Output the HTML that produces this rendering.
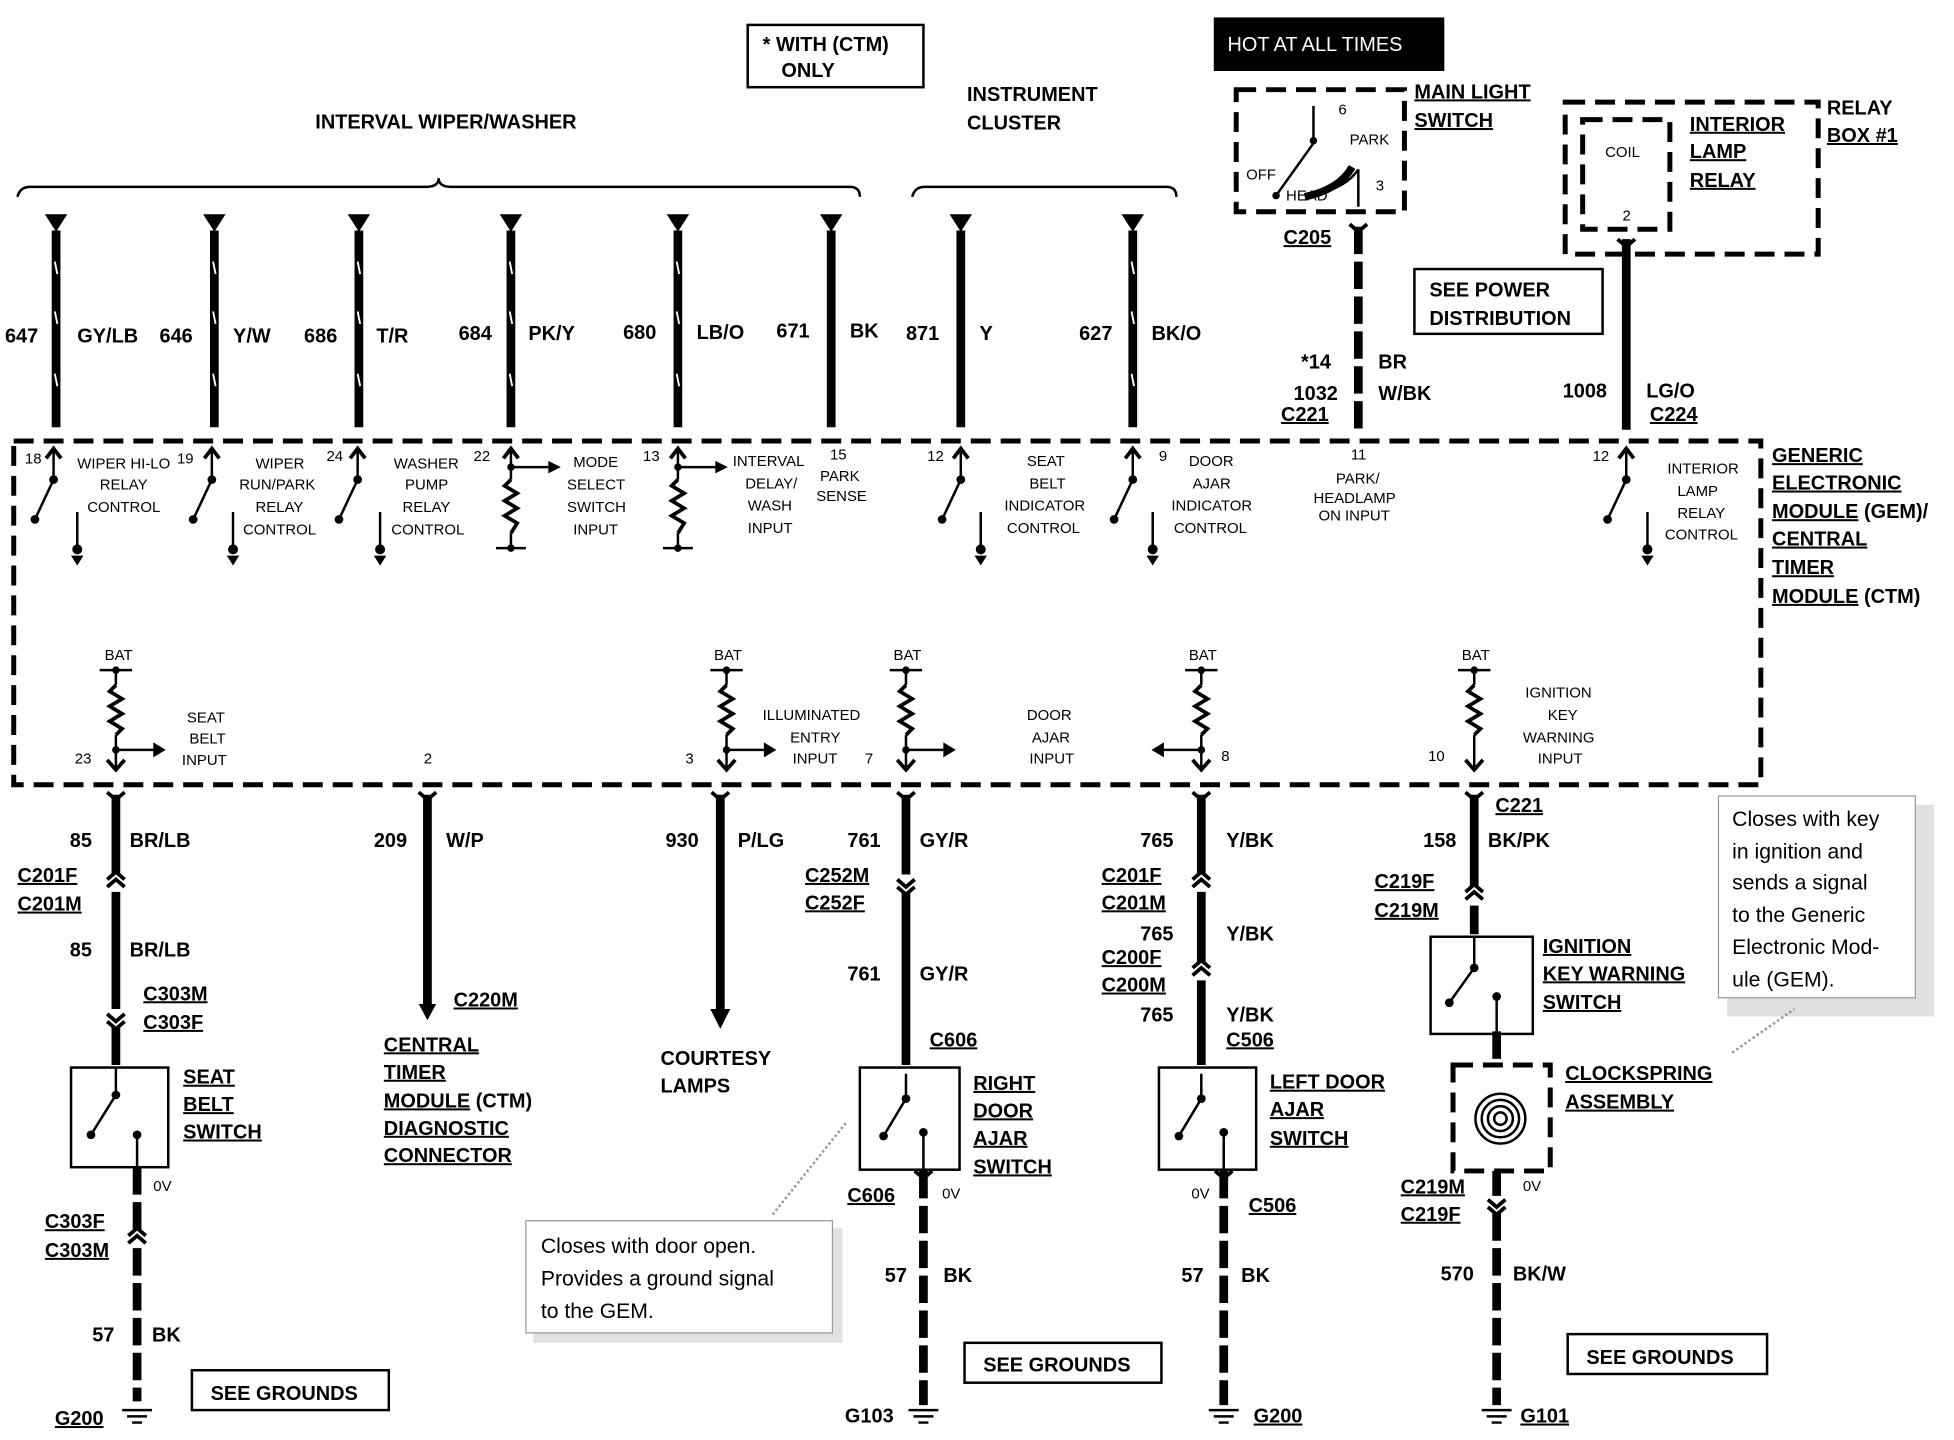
<!DOCTYPE html>
<html><head><meta charset="utf-8"><style>
html,body{margin:0;padding:0;background:#fff;}
svg{display:block}
text{font-family:"Liberation Sans",Arial,sans-serif;fill:#000}
.b{font-weight:bold;font-size:16px}
.s{font-size:12px}
.u{text-decoration:underline}
.w{stroke:#000;stroke-width:7;fill:none}
.t{stroke:#000;stroke-width:2;fill:none}
.d{stroke:#000;stroke-width:4;fill:none;stroke-dasharray:16 8}
.z{stroke:#000;stroke-width:3;fill:none}
</style></head><body>
<svg width="1954" height="1440" viewBox="0 0 1568 1156" preserveAspectRatio="none">
<rect width="1568" height="1156" fill="#fff"/>
<rect x="600" y="20" width="141" height="50" fill="none" stroke="#000" stroke-width="2"/>
<text class="b" x="612" y="41">* WITH (CTM)</text><text class="b" x="627" y="62">ONLY</text>
<text class="b" x="253" y="103">INTERVAL WIPER/WASHER</text>
<text class="b" x="776" y="81">INSTRUMENT</text><text class="b" x="776" y="104">CLUSTER</text>
<rect x="974" y="14" width="185" height="43" fill="#000"/>
<text x="985" y="41" style="font-size:16px;fill:#fff">HOT AT ALL TIMES</text>
<path class="t" stroke-width="3" d="M14 158 Q16 150 24 150 L342 150 Q352 150 352 143 Q352 150 362 150 L682 150 Q690 150 690 158"/>
<path class="t" stroke-width="3" d="M732 158 Q734 150 742 150 L936 150 Q944 150 944 158"/>
<g fill="#000">
<path d="M36 172h18l-9 14z"/><path d="M163 172h18l-9 14z"/><path d="M279 172h18l-9 14z"/><path d="M401 172h18l-9 14z"/>
<path d="M535 172h18l-9 14z"/><path d="M658 172h18l-9 14z"/><path d="M762 172h18l-9 14z"/><path d="M900 172h18l-9 14z"/>
</g>
<path class="w" d="M45 185V343M172 185V343M288 185V343M410 185V343M544 185V343M667 185V343M771 185V343M909 185V343"/>
<path stroke="#fff" stroke-width="1.5" d="M44 210l2 10M44 250l2 10M44 300l2 10M171 210l2 10M171 250l2 10M171 300l2 10M287 210l2 10M287 250l2 10M287 300l2 10M409 210l2 10M409 250l2 10M409 300l2 10M543 210l2 10M543 250l2 10M543 300l2 10M908 210l2 10M908 250l2 10M908 300l2 10"/>
<g class="b">
<text x="4" y="275">647</text><text x="62" y="275">GY/LB</text>
<text x="128" y="275">646</text><text x="187" y="275">Y/W</text>
<text x="244" y="275">686</text><text x="302" y="275">T/R</text>
<text x="368" y="273">684</text><text x="424" y="273">PK/Y</text>
<text x="500" y="272">680</text><text x="559" y="272">LB/O</text>
<text x="623" y="271">671</text><text x="682" y="271">BK</text>
<text x="727" y="273">871</text><text x="786" y="273">Y</text>
<text x="866" y="273">627</text><text x="924" y="273">BK/O</text>
</g>
<rect x="992" y="72" width="135" height="98" class="d"/>
<text class="b u" x="1135" y="79">MAIN LIGHT</text><text class="b u" x="1135" y="102">SWITCH</text>
<path class="t" stroke-width="3" d="M1054 85v30l-30 42M1090 136q-10 15 -35 20M1090 136v30"/>
<path d="M1085 134q-10 18 -38 24" stroke="#000" stroke-width="6" fill="none"/>
<circle cx="1054" cy="113" r="3"/><circle cx="1024" cy="157" r="3"/>
<text class="s" x="1074" y="92">6</text><text class="s" x="1083" y="116">PARK</text><text class="s" x="1000" y="144">OFF</text><text class="s" x="1032" y="161">HEAD</text><text class="s" x="1104" y="153">3</text>
<text class="b u" x="1030" y="196">C205</text>
<path class="w" d="M1090 182V345" stroke-dasharray="22 6"/>
<text class="b" x="1044" y="296">*14</text><text class="b" x="1106" y="296">BR</text>
<text class="b" x="1038" y="321">1032</text><text class="b" x="1106" y="321">W/BK</text>
<text class="b u" x="1028" y="338">C221</text>
<rect x="1135" y="216" width="151" height="52" fill="none" stroke="#000" stroke-width="2"/>
<text class="b" x="1147" y="238">SEE POWER</text><text class="b" x="1147" y="261">DISTRIBUTION</text>
<rect x="1256" y="82" width="203" height="122" class="d"/>
<rect x="1270" y="96" width="70" height="88" class="d"/>
<text class="s" x="1288" y="126">COIL</text><text class="s" x="1302" y="177">2</text>
<text class="b u" x="1356" y="105">INTERIOR</text><text class="b u" x="1356" y="127">LAMP</text><text class="b u" x="1356" y="150">RELAY</text>
<text class="b" x="1466" y="92">RELAY</text><text class="b u" x="1466" y="114">BOX #1</text>
<path class="w" d="M1305 192V345"/>
<text class="b" x="1254" y="319">1008</text><text class="b" x="1321" y="319">LG/O</text><text class="b u" x="1324" y="338">C224</text>
<rect x="11" y="354" width="1402" height="276" class="d"/>
<text class="b u" x="1422" y="371">GENERIC</text><text class="b u" x="1422" y="393">ELECTRONIC</text>
<text class="b" x="1422" y="416"><tspan class="u">MODULE</tspan> (GEM)/</text>
<text class="b u" x="1422" y="438">CENTRAL</text><text class="b u" x="1422" y="461">TIMER</text>
<text class="b" x="1422" y="484"><tspan class="u">MODULE</tspan> (CTM)</text>
<g class="t" stroke-width="2.5">
<path d="M43 360v25l-15 32M170 360v25l-15 32M287 360v25l-15 32M771 360v25l-15 32M909 360v25l-15 32M1305 360v25l-15 32"/>
<path d="M62 411v28M187 411v28M305 411v28M787 411v28M925 411v28M1322 411v28"/>
<path d="M410 360v25M410 428v12M398 440h24M410 375h30M544 360v25M544 428v12M532 440h24M544 375h30"/>
<path d="M93 538v12M93 590v28M583 538v12M583 590v28M727 538v12M727 590v28M964 538v12M964 590v28M1183 538v12M1183 590v28"/>
<path d="M80 538h26M93 602h30M570 538h26M583 602h30M714 538h26M727 602h30M951 538h26M964 602h-30M1170 538h26"/>
</g>
<g class="z">
<path d="M410 385l-5 5l10 6l-10 6l10 6l-10 6l10 6l-5 8"/>
<path d="M544 385l-5 5l10 6l-10 6l10 6l-10 6l10 6l-5 8"/>
<path d="M93 550l-5 5l10 6l-10 6l10 6l-10 6l10 6l-5 5"/>
<path d="M583 550l-5 5l10 6l-10 6l10 6l-10 6l10 6l-5 5"/>
<path d="M727 550l-5 5l10 6l-10 6l10 6l-10 6l10 6l-5 5"/>
<path d="M964 550l-5 5l10 6l-10 6l10 6l-10 6l10 6l-5 5"/>
<path d="M1183 550l-5 5l10 6l-10 6l10 6l-10 6l10 6l-5 5"/>
<path d="M86 610l7 8l7-8M576 610l7 8l7-8M720 610l7 8l7-8M957 610l7 8l7-8M1176 610l7 8l7-8"/>
<path d="M37 368l6-8l6 8M164 368l6-8l6 8M281 368l6-8l6 8M404 368l6-8l6 8M538 368l6-8l6 8M765 368l6-8l6 8M903 368l6-8l6 8M1299 368l6-8l6 8"/>
</g>
<g fill="#000">
<circle cx="43" cy="385" r="3.5"/><circle cx="28" cy="417" r="3.5"/><circle cx="62" cy="441" r="4"/>
<circle cx="170" cy="385" r="3.5"/><circle cx="155" cy="417" r="3.5"/><circle cx="187" cy="441" r="4"/>
<circle cx="287" cy="385" r="3.5"/><circle cx="272" cy="417" r="3.5"/><circle cx="305" cy="441" r="4"/>
<circle cx="771" cy="385" r="3.5"/><circle cx="756" cy="417" r="3.5"/><circle cx="787" cy="441" r="4"/>
<circle cx="909" cy="385" r="3.5"/><circle cx="894" cy="417" r="3.5"/><circle cx="925" cy="441" r="4"/>
<circle cx="1305" cy="385" r="3.5"/><circle cx="1290" cy="417" r="3.5"/><circle cx="1322" cy="441" r="4"/>
<circle cx="410" cy="375" r="3"/><circle cx="544" cy="375" r="3"/><circle cx="410" cy="440" r="3"/><circle cx="544" cy="440" r="3"/>
<circle cx="93" cy="538" r="3"/><circle cx="583" cy="538" r="3"/><circle cx="727" cy="538" r="3"/><circle cx="964" cy="538" r="3"/><circle cx="1183" cy="538" r="3"/>
<circle cx="93" cy="602" r="3"/><circle cx="583" cy="602" r="3"/><circle cx="727" cy="602" r="3"/><circle cx="964" cy="602" r="3"/>
<path d="M440 370l10 5l-10 5zM574 370l10 5l-10 5z"/>
<path d="M123 596l10 6l-10 6zM613 596l10 6l-10 6zM757 596l10 6l-10 6zM934 596l-10 6l10 6z"/>
<path d="M57 446h10l-5 8zM182 446h10l-5 8zM300 446h10l-5 8zM782 446h10l-5 8zM920 446h10l-5 8zM1317 446h10l-5 8z"/>
</g>
<g class="s">
<text x="20" y="372">18</text><text x="62" y="376">WIPER HI-LO</text><text x="80" y="393">RELAY</text><text x="70" y="411">CONTROL</text>
<text x="142" y="372">19</text><text x="205" y="376">WIPER</text><text x="192" y="393">RUN/PARK</text><text x="205" y="411">RELAY</text><text x="195" y="429">CONTROL</text>
<text x="262" y="370">24</text><text x="316" y="376">WASHER</text><text x="325" y="393">PUMP</text><text x="323" y="411">RELAY</text><text x="314" y="429">CONTROL</text>
<text x="380" y="370">22</text><text x="460" y="375">MODE</text><text x="455" y="393">SELECT</text><text x="455" y="411">SWITCH</text><text x="460" y="429">INPUT</text>
<text x="516" y="370">13</text><text x="588" y="374">INTERVAL</text><text x="598" y="392">DELAY/</text><text x="600" y="410">WASH</text><text x="600" y="428">INPUT</text>
<text x="666" y="369">15</text><text x="658" y="386">PARK</text><text x="655" y="402">SENSE</text>
<text x="744" y="370">12</text><text x="824" y="374">SEAT</text><text x="826" y="392">BELT</text><text x="806" y="410">INDICATOR</text><text x="808" y="428">CONTROL</text>
<text x="930" y="370">9</text><text x="954" y="374">DOOR</text><text x="957" y="392">AJAR</text><text x="940" y="410">INDICATOR</text><text x="942" y="428">CONTROL</text>
<text x="1084" y="369">11</text><text x="1072" y="388">PARK/</text><text x="1054" y="404">HEADLAMP</text><text x="1058" y="418">ON INPUT</text>
<text x="1278" y="370">12</text><text x="1338" y="380">INTERIOR</text><text x="1346" y="398">LAMP</text><text x="1346" y="416">RELAY</text><text x="1336" y="433">CONTROL</text>
<text x="84" y="530">BAT</text><text x="573" y="530">BAT</text><text x="717" y="530">BAT</text><text x="954" y="530">BAT</text><text x="1173" y="530">BAT</text>
<text x="150" y="580">SEAT</text><text x="152" y="597">BELT</text><text x="146" y="614">INPUT</text><text x="60" y="613">23</text>
<text x="340" y="613">2</text><text x="550" y="613">3</text><text x="694" y="613">7</text>
<text x="612" y="578">ILLUMINATED</text><text x="634" y="596">ENTRY</text><text x="636" y="613">INPUT</text>
<text x="824" y="578">DOOR</text><text x="828" y="596">AJAR</text><text x="826" y="613">INPUT</text><text x="980" y="611">8</text>
<text x="1146" y="611">10</text><text x="1224" y="560">IGNITION</text><text x="1242" y="578">KEY</text><text x="1222" y="596">WARNING</text><text x="1234" y="613">INPUT</text>
</g>
<!-- bottom wires -->
<path class="w" d="M93 638V702M93 716V810M93 824V855M343 638V808M578 638V815M727 638V702M727 716V855M964 638V702M964 716V773M964 787V855M1183 638V712M1183 727V750"/>
<path class="w" stroke-dasharray="22 6" d="M110 937V988M110 1002V1125M741 940V1128M982 940V1128M1201 828V852M1201 940V960M1201 974V1128"/>
<!-- connector chevrons -->
<g class="z">
<path d="M86 706l7-6l7 6M86 712l7-6l7 6M86 814l7 6l7-6M86 820l7 6l7-6M720 706l7 6l7-6M720 712l7 6l7-6M957 706l7-6l7 6M957 712l7-6l7 6M957 777l7-6l7 6M957 783l7-6l7 6M1176 716l7-6l7 6M1176 722l7-6l7 6M103 992l7-6l7 6M103 998l7-6l7 6M1194 963l7 6l7-6M1194 969l7 6l7-6M1083 180l7 6l7-6M1298 192l7 6l7-6M86 636l7 6l7-6M336 636l7 6l7-6M571 636l7 6l7-6M720 636l7 6l7-6M957 636l7 6l7-6M1176 636l7 6l7-6M734 940l7 6l7-6M975 940l7 6l7-6"/>
</g>
<g fill="#000"><path d="M336 806h14l-7 13zM570 810h16l-8 16z"/></g>
<g class="b">
<text x="56" y="680">85</text><text x="104" y="680">BR/LB</text>
<text class="u" x="14" y="708">C201F</text><text class="u" x="14" y="731">C201M</text>
<text x="56" y="768">85</text><text x="104" y="768">BR/LB</text>
<text class="u" x="115" y="803">C303M</text><text class="u" x="115" y="826">C303F</text>
<text x="300" y="680">209</text><text x="358" y="680">W/P</text><text class="u" x="364" y="808">C220M</text>
<text class="u" x="308" y="844">CENTRAL</text><text class="u" x="308" y="866">TIMER</text>
<text x="308" y="889"><tspan class="u">MODULE</tspan> (CTM)</text><text class="u" x="308" y="911">DIAGNOSTIC</text><text class="u" x="308" y="933">CONNECTOR</text>
<text x="534" y="680">930</text><text x="592" y="680">P/LG</text>
<text x="530" y="855">COURTESY</text><text x="530" y="877">LAMPS</text>
<text x="680" y="680">761</text><text x="738" y="680">GY/R</text>
<text class="u" x="646" y="708">C252M</text><text class="u" x="646" y="730">C252F</text>
<text x="680" y="787">761</text><text x="738" y="787">GY/R</text><text class="u" x="746" y="840">C606</text>
<text class="u" x="781" y="875">RIGHT</text><text class="u" x="781" y="897">DOOR</text><text class="u" x="781" y="919">AJAR</text><text class="u" x="781" y="942">SWITCH</text>
<text class="u" x="680" y="965">C606</text><text x="710" y="1029">57</text><text x="757" y="1029">BK</text>
<text x="915" y="680">765</text><text x="984" y="680">Y/BK</text>
<text class="u" x="884" y="708">C201F</text><text class="u" x="884" y="730">C201M</text>
<text x="915" y="755">765</text><text x="984" y="755">Y/BK</text>
<text class="u" x="884" y="774">C200F</text><text class="u" x="884" y="796">C200M</text>
<text x="915" y="820">765</text><text x="984" y="820">Y/BK</text><text class="u" x="984" y="840">C506</text>
<text class="u" x="1019" y="874">LEFT DOOR</text><text class="u" x="1019" y="896">AJAR</text><text class="u" x="1019" y="919">SWITCH</text>
<text class="u" x="1002" y="973">C506</text><text x="948" y="1029">57</text><text x="996" y="1029">BK</text>
<text class="u" x="1200" y="652">C221</text><text x="1142" y="680">158</text><text x="1194" y="680">BK/PK</text>
<text class="u" x="1103" y="713">C219F</text><text class="u" x="1103" y="736">C219M</text>
<text class="u" x="1238" y="765">IGNITION</text><text class="u" x="1238" y="787">KEY WARNING</text><text class="u" x="1238" y="810">SWITCH</text>
<text class="u" x="1256" y="867">CLOCKSPRING</text><text class="u" x="1256" y="890">ASSEMBLY</text>
<text class="u" x="1124" y="958">C219M</text><text class="u" x="1124" y="980">C219F</text>
<text x="1156" y="1028">570</text><text x="1214" y="1028">BK/W</text>
<text class="u" x="36" y="986">C303F</text><text class="u" x="36" y="1009">C303M</text>
<text x="74" y="1077">57</text><text x="122" y="1077">BK</text>
<text class="u" x="44" y="1144">G200</text><text x="678" y="1142">G103</text><text class="u" x="1006" y="1142">G200</text><text class="u" x="1220" y="1142">G101</text>
<text class="u" x="147" y="870">SEAT</text><text class="u" x="147" y="892">BELT</text><text class="u" x="147" y="914">SWITCH</text>
</g>
<g class="s"><text x="123" y="956">0V</text><text x="756" y="962">0V</text><text x="956" y="962">0V</text><text x="1222" y="956">0V</text></g>
<rect x="57" y="857" width="78" height="80" class="t" stroke-width="3"/>
<path class="t" stroke-width="2.5" d="M93 857v22l-20 32M110 911v26"/>
<rect x="690" y="857" width="80" height="82" class="t" stroke-width="3"/>
<path class="t" stroke-width="2.5" d="M727 862v20l-18 30M741 909v30"/>
<rect x="930" y="857" width="78" height="82" class="t" stroke-width="3"/>
<path class="t" stroke-width="2.5" d="M964 862v20l-18 30M982 909v30"/>
<rect x="1148" y="752" width="82" height="78" class="t" stroke-width="3"/>
<path class="t" stroke-width="2.5" d="M1183 752v25l-20 28M1201 800v28"/>
<g fill="#000"><circle cx="93" cy="879" r="3.5"/><circle cx="73" cy="911" r="3.5"/><circle cx="110" cy="911" r="3.5"/><circle cx="727" cy="882" r="3.5"/><circle cx="709" cy="912" r="3.5"/><circle cx="741" cy="909" r="3.5"/><circle cx="964" cy="882" r="3.5"/><circle cx="946" cy="912" r="3.5"/><circle cx="982" cy="909" r="3.5"/><circle cx="1183" cy="777" r="3.5"/><circle cx="1163" cy="805" r="3.5"/><circle cx="1201" cy="800" r="3.5"/></g>
<rect x="1166" y="855" width="78" height="85" class="d" stroke-width="3"/>
<g fill="none" stroke="#000" stroke-width="2"><circle cx="1204" cy="898" r="5"/><circle cx="1204" cy="898" r="10"/><circle cx="1204" cy="898" r="15"/><circle cx="1204" cy="898" r="20"/></g>
<g class="t" stroke-width="3"><path d="M98 1132h24M102 1137h16M106 1142h8M729 1132h24M733 1137h16M737 1142h8M970 1132h24M974 1137h16M978 1142h8M1189 1132h24M1193 1137h16M1197 1142h8"/></g>
<rect x="154" y="1100" width="158" height="32" class="t"/><text class="b" x="169" y="1124">SEE GROUNDS</text>
<rect x="774" y="1078" width="158" height="32" class="t"/><text class="b" x="789" y="1101">SEE GROUNDS</text>
<rect x="1258" y="1071" width="160" height="32" class="t"/><text class="b" x="1273" y="1095">SEE GROUNDS</text>
<rect x="428" y="986" width="248" height="92" fill="#ccc" opacity=".6"/>
<rect x="422" y="980" width="246" height="90" fill="#fff" stroke="#999" stroke-width="1"/>
<path d="M620 975L680 900" stroke="#999" stroke-width="2" stroke-dasharray="2 2"/>
<text x="434" y="1006" style="font-size:17px">Closes with door open.</text>
<text x="434" y="1032" style="font-size:17px">Provides a ground signal</text>
<text x="434" y="1058" style="font-size:17px">to the GEM.</text>
<rect x="1386" y="646" width="166" height="170" fill="#ccc" opacity=".6"/>
<rect x="1379" y="639" width="158" height="162" fill="#fff" stroke="#999" stroke-width="1"/>
<path d="M1390 845L1440 810" stroke="#999" stroke-width="2" stroke-dasharray="2 2"/>
<g style="font-size:17px"><text x="1390" y="663">Closes with key</text><text x="1390" y="689">in ignition and</text><text x="1390" y="714">sends a signal</text><text x="1390" y="740">to the Generic</text><text x="1390" y="766">Electronic Mod-</text><text x="1390" y="792">ule (GEM).</text></g>
</svg>
</body></html>
